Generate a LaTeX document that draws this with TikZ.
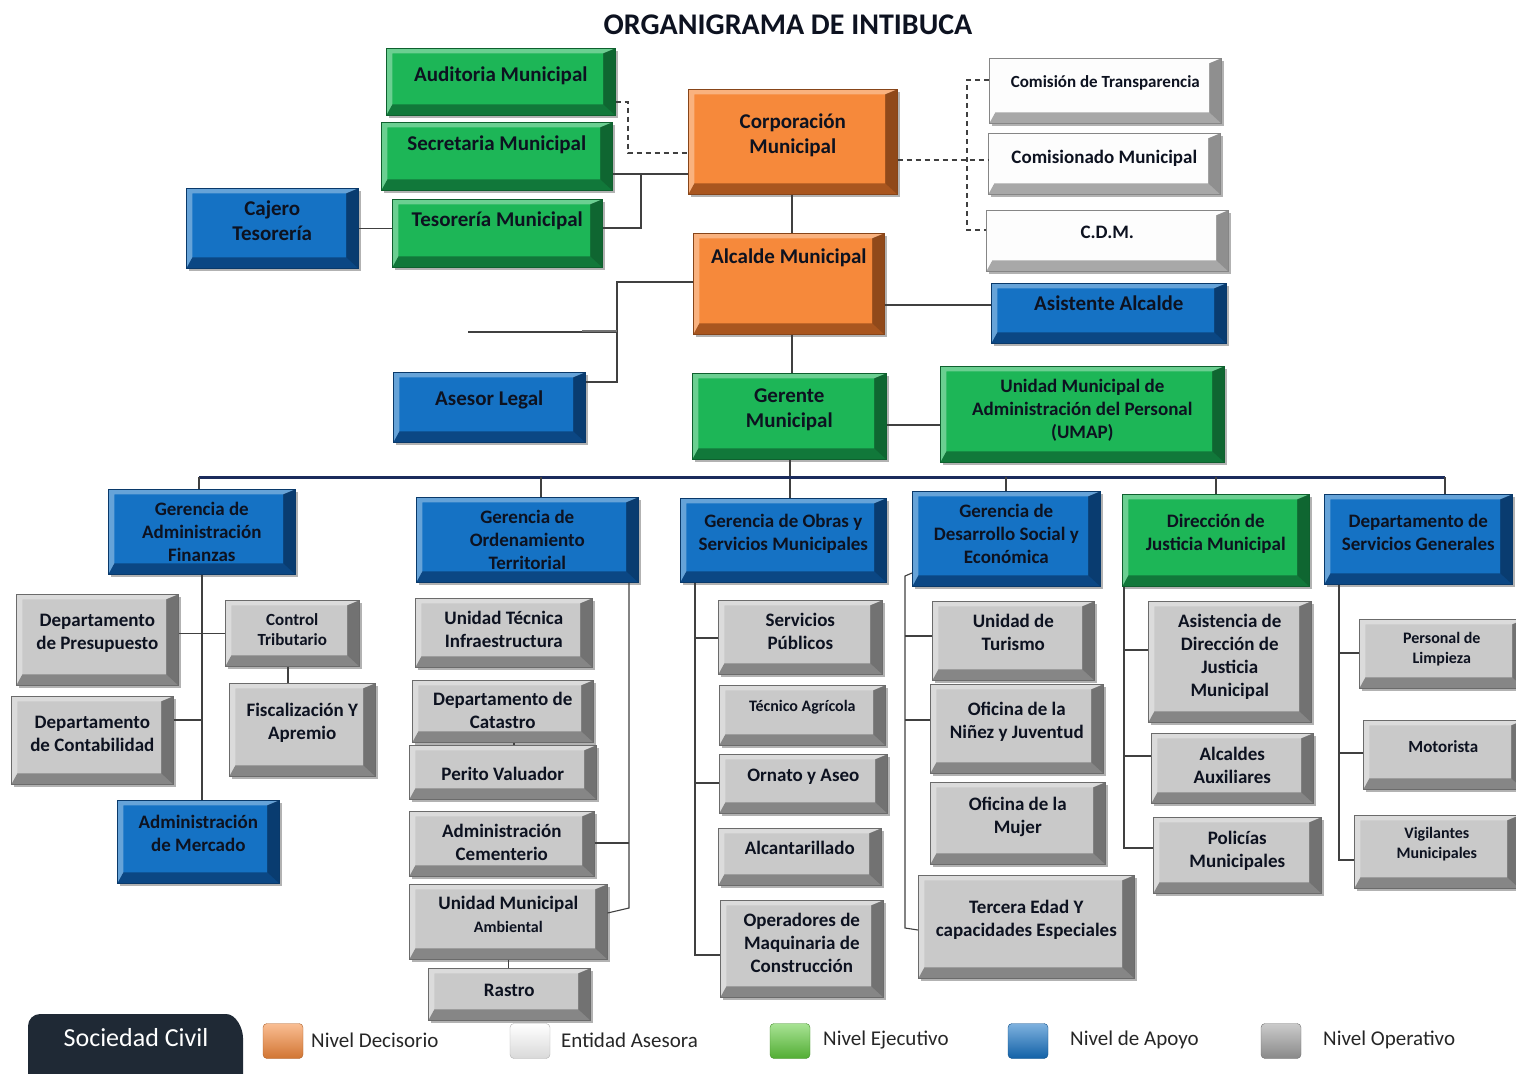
\documentclass[tikz,border=0pt]{standalone}
\usepackage{fontspec}
\setmainfont{Carlito}
\usetikzlibrary{shadows}
\definecolor{naranja}{HTML}{F6893B}
\definecolor{naranjaosc}{HTML}{A9561F}
\definecolor{verde}{HTML}{1DB657}
\definecolor{verdeosc}{HTML}{11783A}
\definecolor{azul}{HTML}{1572C4}
\definecolor{azulosc}{HTML}{0B4784}
\definecolor{gris}{HTML}{C9C9C9}
\definecolor{grisosc}{HTML}{868686}
\definecolor{blanco}{HTML}{FDFDFD}
\definecolor{blancoosc}{HTML}{A8A8A8}
\definecolor{civil}{HTML}{1F2935}
\definecolor{barra}{HTML}{1B2B5C}
\definecolor{texto}{HTML}{0D1220}
\tikzset{
  caja/.style 2 args = {draw = #2!80!black, line width = 0.6pt, fill = #1, text = texto, align = center, inner sep = 1pt,
    drop shadow = {shadow xshift = 3pt, shadow yshift = -3pt, fill = black, opacity = 0.3},
    path picture = {
      \coordinate (bsw) at (path picture bounding box.south west);
      \coordinate (bse) at (path picture bounding box.south east);
      \coordinate (bne) at (path picture bounding box.north east);
      \coordinate (bnw) at (path picture bounding box.north west);
      \fill[#2] (bsw) -- (bse) -- (bne) -- ([shift = {(-12pt, -5pt)}]bne) -- ([shift = {(-12pt, 11pt)}]bse) -- ([shift = {(6pt, 11pt)}]bsw) -- cycle;
      \fill[#2!85!black] (bse) -- (bne) -- ([shift = {(-12pt, -5pt)}]bne) -- ([shift = {(-12pt, 11pt)}]bse) -- cycle;
      \fill[white, opacity = 0.35] (bnw) -- (bne) -- ([shift = {(-12pt, -5pt)}]bne) -- ([shift = {(6pt, -5pt)}]bnw) -- ([shift = {(6pt, 11pt)}]bsw) -- (bsw) -- cycle;
    }},
  decisorio/.style = {caja = {naranja}{naranjaosc}},
  asesora/.style = {caja = {blanco}{blancoosc}},
  ejecutivo/.style = {caja = {verde}{verdeosc}},
  apoyo/.style = {caja = {azul}{azulosc}},
  operativo/.style = {caja = {gris}{grisosc}},
  tam/.style 2 args = {minimum width = #1pt, minimum height = #2pt, anchor = north west},
  arriba/.style 2 args = {text height = #1pt, text depth = #2pt, inner ysep = 0pt},
  f21/.style = {font = \fontsize{21}{25}\selectfont\bfseries},
  f19/.style = {font = \fontsize{19}{23}\selectfont\bfseries},
  f17/.style = {font = \fontsize{17}{20}\selectfont\bfseries},
  f16/.style = {font = \fontsize{16}{20}\selectfont\bfseries},
  con/.style = {draw = black!75, line width = 1.1pt},
  discon/.style = {con, dash pattern = on 5pt off 4pt},
  bus/.style = {draw = barra, line width = 3pt},
  muestra/.style = {rounded corners = 4pt, minimum width = 40pt, minimum height = 35pt, draw = #1!70!black, top color = #1!55!white, bottom color = #1!85!black},
  leyenda/.style = {anchor = west, inner sep = 0pt, font = \fontsize{21}{25}\selectfont, text = black!85}
}

\begin{document}
\begin{tikzpicture}[x = 1pt, y = -1pt]
    \useasboundingbox (0, 0) rectangle (1516, 1074);
    \node[font = \fontsize{30}{36}\selectfont\bfseries, text = texto] (titulo) at (788, 25) {ORGANIGRAMA DE INTIBUCA};

    \node[ejecutivo, tam = {229}{67}, f21, arriba = {33}{34}] (audit) at (386, 48) {Auditoria Municipal};
    \node[ejecutivo, tam = {231}{68}, f21, arriba = {28}{40}] (secre) at (381, 122) {Secretaria Municipal};
    \node[ejecutivo, tam = {210}{68}, f21, arriba = {27}{41}] (teso) at (392, 199) {Tesorería Municipal};
    \node[apoyo, tam = {172}{80}, f21, arriba = {52}{28}] (cajero) at (186, 188) {Cajero\\Tesorería};
    \node[decisorio, tam = {209}{105}, f21, arriba = {64}{41}] (corp) at (688, 89) {Corporación\\Municipal};
    \node[asesora, tam = {232}{65}, f17, arriba = {29}{36}] (comtra) at (989, 58) {Comisión de Transparencia};
    \node[asesora, tam = {232}{61}, f19, arriba = {30}{31}] (comis) at (988, 133) {Comisionado Municipal};
    \node[asesora, tam = {242}{61}, f19, arriba = {28}{33}] (cdm) at (986, 210) {C.D.M.};
    \node[decisorio, tam = {191}{101}, f21, arriba = {30}{71}] (alcalde) at (693, 233) {Alcalde Municipal};
    \node[apoyo, tam = {235}{60}, f21, arriba = {27}{33}] (asist) at (991, 283) {Asistente Alcalde};
    \node[apoyo, tam = {192}{70}, f21, arriba = {33}{37}] (asesor) at (393, 372) {Asesor Legal};
    \node[ejecutivo, tam = {194}{86}, f21, arriba = {54}{32}] (gerente) at (692, 373) {Gerente\\Municipal};
    \node[ejecutivo, tam = {284}{96}, f19, arriba = {72}{24}] (umap) at (940, 366) {Unidad Municipal de\\Administración del Personal\\(UMAP)};

    \node[apoyo, tam = {187}{85}, f19, arriba = {72}{13}] (gfin) at (108, 489) {Gerencia de\\Administración\\Finanzas};
    \node[apoyo, tam = {222}{85}, f19, arriba = {72}{13}] (gord) at (416, 497) {Gerencia de\\Ordenamiento\\Territorial};
    \node[apoyo, tam = {206}{84}, f19, arriba = {52}{32}] (gobr) at (680, 498) {Gerencia de Obras y\\Servicios Municipales};
    \node[apoyo, tam = {188}{95}, f19, arriba = {72}{23}] (gdes) at (912, 491) {Gerencia de\\Desarrollo Social y\\Económica};
    \node[ejecutivo, tam = {187}{92}, f19, arriba = {56}{36}] (djus) at (1122, 494) {Dirección de\\Justicia Municipal};
    \node[apoyo, tam = {188}{90}, f19, arriba = {56}{34}] (dsg) at (1324, 494) {Departamento de\\Servicios Generales};

    \node[operativo, tam = {162}{91}, f19, arriba = {55}{36}] (presup) at (16, 594) {Departamento\\de Presupuesto};
    \node[operativo, tam = {134}{66}, f17, arriba = {45}{21}] (ctrib) at (225, 600) {Control\\Tributario};
    \node[operativo, tam = {146}{93}, f19, arriba = {56}{37}] (fisc) at (229, 683) {Fiscalización Y\\Apremio};
    \node[operativo, tam = {162}{88}, f19, arriba = {55}{33}] (conta) at (11, 696) {Departamento\\de Contabilidad};
    \node[apoyo, tam = {162}{83}, f19, arriba = {51}{32}] (merc) at (117, 800) {Administración\\de Mercado};

    \node[operativo, tam = {177}{69}, f19, arriba = {49}{20}] (utec) at (415, 598) {Unidad Técnica\\Infraestructura};
    \node[operativo, tam = {181}{62}, f19, arriba = {48}{14}] (catas) at (412, 680) {Departamento de\\Catastro};
    \node[operativo, tam = {187}{54}, f19, arriba = {35}{19}] (perito) at (409, 745) {Perito Valuador};
    \node[operativo, tam = {185}{65}, f19, arriba = {49}{16}] (cement) at (409, 811) {Administración\\Cementerio};
    \node[operativo, tam = {198}{75}, f19, arriba = {48}{27}] (umamb) at (409, 884) {Unidad Municipal\\{\fontsize{16}{19}\selectfont Ambiental}};
    \node[operativo, tam = {162}{52}, f19, arriba = {28}{24}] (rastro) at (428, 968) {Rastro};

    \node[operativo, tam = {164}{74}, f19, arriba = {49}{25}] (spub) at (718, 600) {Servicios\\Públicos};
    \node[operativo, tam = {166}{60}, f16, arriba = {26}{34}] (tagr) at (719, 685) {Técnico Agrícola};
    \node[operativo, tam = {168}{59}, f19, arriba = {27}{32}] (ornato) at (719, 754) {Ornato y Aseo};
    \node[operativo, tam = {163}{57}, f19, arriba = {26}{31}] (alcan) at (718, 828) {Alcantarillado};
    \node[operativo, tam = {163}{97}, f19, arriba = {72}{25}] (opera) at (720, 900) {Operadores de\\Maquinaria de\\Construcción};

    \node[operativo, tam = {162}{79}, f19, arriba = {49}{30}] (turis) at (932, 601) {Unidad de\\Turismo};
    \node[operativo, tam = {173}{89}, f19, arriba = {54}{35}] (ninez) at (930, 684) {Oficina de la\\Niñez y Juventud};
    \node[operativo, tam = {175}{82}, f19, arriba = {51}{31}] (mujer) at (930, 782) {Oficina de la\\Mujer};
    \node[operativo, tam = {216}{103}, f19, arriba = {61}{42}] (tercera) at (918, 875) {Tercera Edad Y\\capacidades Especiales};

    \node[operativo, tam = {163}{121}, f19, arriba = {95}{26}] (asisjus) at (1148, 601) {Asistencia de\\Dirección de\\Justicia\\Municipal};
    \node[operativo, tam = {162}{70}, f19, arriba = {50}{20}] (alcaux) at (1151, 733) {Alcaldes\\Auxiliares};
    \node[operativo, tam = {168}{76}, f19, arriba = {50}{26}] (polic) at (1153, 817) {Policías\\Municipales};

    \node[operativo, tam = {165}{69}, f16, arriba = {44}{25}] (limp) at (1359, 619) {Personal de\\Limpieza};
    \node[operativo, tam = {160}{69}, f17, arriba = {32}{37}] (motor) at (1363, 720) {Motorista};
    \node[operativo, tam = {165}{73}, f16, arriba = {43}{30}] (vigil) at (1354, 815) {Vigilantes\\Municipales};

    \coordinate (ja) at (628, 102);
    \coordinate (js) at (641, 174);
    \coordinate (jt) at (641, 228);
    \coordinate (jc) at (967, 160);
    \coordinate (jl) at (617, 282);
    \coordinate (sc) at (468, 332);
    \draw[discon] (audit.east |- ja) -- (ja) -- (628, 153) -- (corp.west |- 0, 153);
    \draw[con] (secre.east |- js) -- (corp.west |- js);
    \draw[con] (js) -- (jt) -- (teso.east |- jt);
    \draw[con] (cajero.east) -- (cajero.east -| teso.west);
    \draw[discon] (corp.east |- jc) -- (comis.west |- jc);
    \draw[discon] (comtra.west |- 0, 80) -- (967, 80) -- (967, 230) -- (cdm.west |- 0, 230);
    \draw[con] (792, 0 |- corp.south) -- (792, 0 |- alcalde.north);
    \draw[con] (alcalde.east |- 0, 305) -- (asist.west |- 0, 305);
    \draw[con] (alcalde.west |- jl) -- (jl) -- (617, 382) -- (asesor.east |- 0, 382);
    \draw[con] (sc) -- (617, 332);
    \draw[black!55, line width = 2.5pt] (582, 331) -- (617, 331);
    \draw[con] (792, 0 |- alcalde.south) -- (792, 0 |- gerente.north);
    \draw[con] (gerente.east |- 0, 425) -- (umap.west |- 0, 425);
    \draw[con] (790, 0 |- gerente.south) -- (790, 0 |- gobr.north);

    \draw[bus] (199, 477) -- (1445, 477);
    \draw[con] (199, 477) -- (199, 0 |- gfin.north);
    \draw[con] (541, 477) -- (541, 0 |- gord.north);
    \draw[con] (1006, 477) -- (1006, 0 |- gdes.north);
    \draw[con] (1216, 477) -- (1216, 0 |- djus.north);
    \draw[con] (1445, 477) -- (1445, 0 |- dsg.north);

    \draw[con] (202, 0 |- gfin.south) -- (202, 0 |- merc.north);
    \draw[con] (presup.east |- ctrib) -- (ctrib.west);
    \draw[con] (288, 0 |- ctrib.south) -- (288, 0 |- fisc.north);
    \draw[con] (conta.east |- 0, 720) -- (202, 720);

    \draw[con] (629, 0 |- gord.south) -- (629, 908) -- (umamb.east |- 0, 913);
    \draw[con] (cement.east |- 0, 843) -- (629, 843);
    \draw[con] (514, 0 |- catas.south) -- (514, 0 |- perito.north);
    \draw[con] (umamb.south) -- (umamb.south |- rastro.north);

    \draw[con] (695, 0 |- gobr.south) -- (695, 955) -- (opera.west |- 0, 955);
    \draw[con] (695, 638) -- (spub.west |- 0, 638);
    \draw[con] (695, 783) -- (ornato.west |- 0, 783);

    \draw[con] (gdes.west |- 0, 573) -- (905, 576) -- (905, 928) -- (tercera.west |- 0, 930);
    \draw[con] (905, 636) -- (turis.west |- 0, 636);
    \draw[con] (905, 720) -- (ninez.west |- 0, 720);

    \draw[con] (1124, 0 |- djus.south) -- (1124, 848) -- (polic.west |- 0, 848);
    \draw[con] (1124, 650) -- (asisjus.west |- 0, 650);
    \draw[con] (1124, 756) -- (alcaux.west |- 0, 756);

    \draw[con] (1339, 0 |- dsg.south) -- (1339, 860) -- (vigil.west |- 0, 860);
    \draw[con] (1339, 653) -- (limp.west |- 0, 653);
    \draw[con] (1339, 753) -- (motor.west |- 0, 753);

    \fill[civil, rounded corners = 12pt] (28, 1090) -- (28, 1014) -- (214, 1014) .. controls (236, 1014) and (243, 1028) .. (243, 1050) -- (243, 1090) -- cycle;
    \node[font = \fontsize{26}{30}\selectfont, text = white] (civil) at (136, 1038) {Sociedad Civil};

    \node[muestra = naranja] (mdec) at (283, 1041) {};
    \node[muestra = white] (mase) at (530, 1041) {};
    \node[muestra = verde!70!yellow] (meje) at (790, 1041) {};
    \node[muestra = azul] (mapo) at (1028, 1041) {};
    \node[muestra = gris!80!black] (mope) at (1281, 1041) {};
    \node[leyenda] (tdec) at (311, 1040) {Nivel Decisorio};
    \node[leyenda] (tase) at (561, 1040) {Entidad Asesora};
    \node[leyenda] (teje) at (823, 1040) {Nivel Ejecutivo};
    \node[leyenda] (tapo) at (1070, 1040) {Nivel de Apoyo};
    \node[leyenda] (tope) at (1323, 1040) {Nivel Operativo};
\end{tikzpicture}
\end{document}
